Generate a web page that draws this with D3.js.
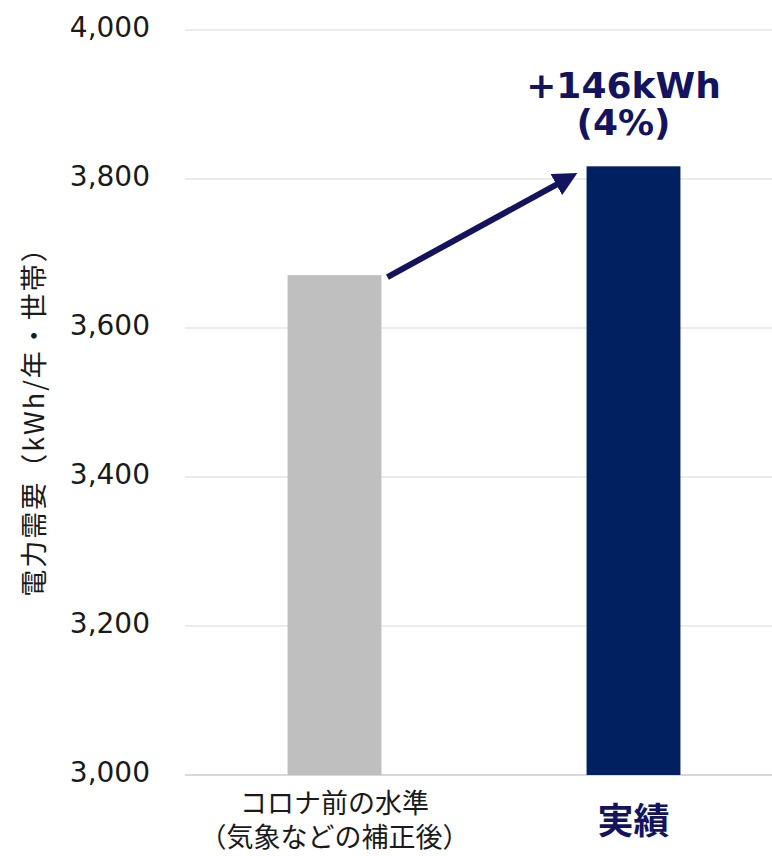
<!DOCTYPE html>
<html>
<head>
<meta charset="utf-8">
<script src="https://cdn.jsdelivr.net/npm/d3@7"></script>
<style>
  body { margin: 0; background: #fff; }
  svg text { font-family: "DejaVu Sans", Verdana, sans-serif; }
  .jp { font-family: "Noto Sans CJK JP", "Noto Sans", sans-serif; }
</style>
</head>
<body>
<svg id="chart" width="772" height="856"></svg>
<script>
/////// data ///////
var categories = ["コロナ前の水準", "実績"];
var catLines = [["コロナ前の水準", "（気象などの補正後）"], ["実績"]];
var values = [3671, 3817];
var barColors = ["#bfbfbf", "#002060"];
var yTicks = [3000, 3200, 3400, 3600, 3800, 4000];
var deltaLabel = ["+146kWh", "(4%)"];
var yTitle = "電力需要（kWh/年・世帯）";

/////// scales ///////
var svg = d3.select("#chart"),
    plotL = 185, plotR = 783, plotT = 30, plotB = 775;

var x = d3.scaleBand().domain(categories).range([plotL, plotR])
    .paddingInner(0.686).paddingOuter(0.343);
var y = d3.scaleLinear().domain([3000, 4000]).range([plotB, plotT]);

var ink = "#14135e";

// gridlines
svg.append("g").selectAll("line")
    .data(yTicks)
    .join("line")
    .attr("x1", plotL).attr("x2", 772)
    .attr("y1", function(d) { return y(d); })
    .attr("y2", function(d) { return y(d); })
    .attr("stroke", "#d9d9d9")
    .attr("stroke-width", function(d) { return d === 3000 ? 2 : 1; });

// y axis labels
var yAxis = d3.axisLeft(y).tickValues(yTicks).tickFormat(d3.format(",")).tickSize(0).tickPadding(0);
var ga = svg.append("g").attr("transform", "translate(150,-2)").call(yAxis);
ga.select(".domain").remove();
ga.selectAll("text")
    .attr("font-size", "28px")
    .attr("fill", "#1a1a1a")
    .attr("font-family", "DejaVu Sans, Verdana, sans-serif");

// bars
svg.append("g").selectAll("rect")
    .data(values)
    .join("rect")
    .attr("x", function(d, i) { return x(categories[i]); })
    .attr("width", x.bandwidth())
    .attr("y", function(d) { return y(d); })
    .attr("height", function(d) { return y(3000) - y(d); })
    .attr("fill", function(d, i) { return barColors[i]; });

// category labels (one text per line)
catLines.forEach(function(lines, i) {
    var cx = x(categories[i]) + x.bandwidth() / 2;
    lines.forEach(function(s, k) {
        var t = svg.append("text")
            .attr("class", "jp")
            .attr("text-anchor", "middle")
            .attr("x", cx)
            .text(s);
        if (i === 0) {
            t.attr("font-size", "27px").attr("fill", "#1a1a1a")
                .attr("y", 813 + k * 34);
        } else {
            t.attr("font-size", "36px").attr("font-weight", "bold").attr("fill", ink)
                .attr("y", 834);
        }
    });
});

// y title
svg.append("text")
    .attr("class", "jp")
    .attr("transform", "translate(44,415) rotate(-90)")
    .attr("text-anchor", "middle")
    .attr("font-size", "27px")
    .attr("letter-spacing", "2px")
    .attr("fill", "#1a1a1a")
    .text(yTitle);

// arrow
svg.append("defs").append("marker")
    .attr("id", "head")
    .attr("viewBox", "0 0 10 10")
    .attr("refX", 2).attr("refY", 5)
    .attr("markerWidth", 4).attr("markerHeight", 4)
    .attr("markerUnits", "strokeWidth")
    .attr("orient", "auto")
    .append("path")
    .attr("d", "M0,0L10,5L0,10Z")
    .attr("fill", ink);

var x0 = x(categories[0]) + x.bandwidth() + 6,
    x1 = x(categories[1]) - 26;
svg.append("line")
    .attr("x1", x0).attr("y1", y(values[0]) + 2)
    .attr("x2", x1).attr("y2", y(values[1]) + 16)
    .attr("stroke", ink)
    .attr("stroke-width", 6)
    .attr("marker-end", "url(#head)");

// delta label
var lx = x(categories[1]) + x.bandwidth() / 2 - 10;
deltaLabel.forEach(function(s, k) {
    svg.append("text")
        .attr("x", lx).attr("y", 98 + k * 37)
        .attr("text-anchor", "middle")
        .attr("font-size", "36px")
        .attr("font-weight", "bold")
        .attr("fill", ink)
        .text(s);
});
</script>
</body>
</html>
